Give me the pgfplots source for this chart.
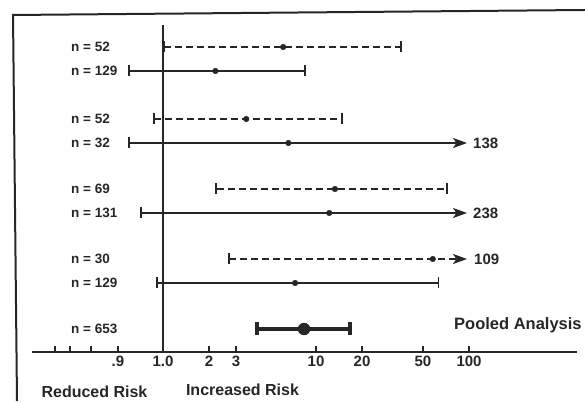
\documentclass[border=0pt]{standalone}
\usepackage{fontspec}
\setmainfont{Liberation Sans}
\usepackage{pgfplots}
\pgfplotsset{compat=1.18}
\usetikzlibrary{arrows.meta}
\definecolor{ink}{HTML}{262626}
\begin{document}
\begin{tikzpicture}
\useasboundingbox (0pt,0pt) rectangle (585pt,401pt);
\begin{axis}[
  at={(32pt,49pt)}, anchor=south west,
  scale only axis, width=545pt, height=340pt,
  xmode=log, xmin=0.1393, xmax=507.8, ymin=49, ymax=389,
  axis x line=bottom, axis y line=none,
  axis line style={-, line width=2pt, ink},
  tick align=inside, major tick length=6pt,
  tick style={line width=1.5pt, ink},
  xtick={0.1968,0.2466,0.3383,0.508,1,2,3,10,20,50,100},
  xticklabels={,,,.9,1.0,2,3,10,20,50,100},
  minor xtick={},
  xticklabel style={font=\fontsize{15}{17}\selectfont\bfseries, text=ink, inner sep=3.5pt},
  ytick=\empty,
  clip=false,
]
% reference line at 1.0
\addplot[ink, line width=1.8pt] coordinates {(1,49) (1,376)};
% n = 52 (dashed)
\addplot[ink, line width=1.8pt, dash pattern=on 7pt off 4pt, {Bar[width=11pt]}-{Bar[width=11pt]}] coordinates {(1.0,354) (36.5,354)};
% n = 129
\addplot[ink, line width=1.8pt, {Bar[width=11pt]}-{Bar[width=11pt]}] coordinates {(0.59,330) (8.6,330)};
% n = 52 (dashed)
\addplot[ink, line width=1.8pt, dash pattern=on 7pt off 4pt, {Bar[width=11pt]}-{Bar[width=11pt]}] coordinates {(0.86,282) (15.0,282)};
% n = 32 (to 138)
\addplot[ink, line width=1.8pt, {Bar[width=11pt]}-{Stealth[length=14pt,width=10pt,inset=3.5pt]}] coordinates {(0.59,258) (97,258)};
% n = 69 (dashed)
\addplot[ink, line width=1.8pt, dash pattern=on 7pt off 4pt, {Bar[width=11pt]}-{Bar[width=11pt]}] coordinates {(2.2,212) (73,212)};
% n = 131 (to 238)
\addplot[ink, line width=1.8pt, {Bar[width=11pt]}-{Stealth[length=14pt,width=10pt,inset=3.5pt]}] coordinates {(0.71,188) (97,188)};
% n = 30 (dashed, to 109)
\addplot[ink, line width=1.8pt, dash pattern=on 7pt off 4pt, {Bar[width=11pt]}-{Stealth[length=14pt,width=10pt,inset=3.5pt]}] coordinates {(2.66,142) (97,142)};
% n = 129
\addplot[ink, line width=1.8pt, {Bar[width=11pt]}-{Bar[width=11pt]}] coordinates {(0.90,118) (64,118)};
% pooled n = 653
\addplot[ink, line width=3.8pt, {Bar[width=13pt]}-{Bar[width=13pt]}] coordinates {(4.0,72) (17.2,72)};
% point estimates
\addplot[only marks, mark=*, mark size=2.8pt, ink, mark options={fill=ink, draw=ink}] coordinates {
  (6.1,354) (2.2,330) (3.5,282) (6.6,258) (13.3,212) (12.2,188) (58,142) (7.3,118)};
\addplot[only marks, mark=*, mark size=6pt, ink, mark options={fill=ink, draw=ink}] coordinates {(8.35,72)};
\end{axis}
% frame
\draw[ink, line width=2pt] (13pt,386pt) -- (585pt,391pt);
\draw[ink, line width=2pt] (13pt,387pt) -- (17pt,0pt);
% row labels
\begin{scope}[every node/.style={anchor=west, inner sep=0pt, text=ink, font=\fontsize{13.5}{15}\selectfont\bfseries}]
\node at (71pt,354pt) {n = 52};
\node at (71pt,330pt) {n = 129};
\node at (71pt,282pt) {n = 52};
\node at (71pt,258pt) {n = 32};
\node at (71pt,212pt) {n = 69};
\node at (71pt,188pt) {n = 131};
\node at (71pt,142pt) {n = 30};
\node at (71pt,118pt) {n = 129};
\node at (71pt,72pt) {n = 653};
\end{scope}
\begin{scope}[every node/.style={anchor=west, inner sep=0pt, text=ink, font=\fontsize{15}{17}\selectfont\bfseries}]
\node at (473pt,258pt) {138};
\node at (473pt,188pt) {238};
\node at (474pt,142pt) {109};
\end{scope}
\node[anchor=west, inner sep=0pt, text=ink, font=\fontsize{16.5}{18}\selectfont\bfseries] at (454pt,76pt) {Pooled Analysis};
\begin{scope}[every node/.style={inner sep=0pt, text=ink, font=\fontsize{16}{18}\selectfont\bfseries}]
\node at (94.5pt,9pt) {Reduced Risk};
\node at (242.5pt,11pt) {Increased Risk};
\end{scope}
\end{tikzpicture}
\end{document}
